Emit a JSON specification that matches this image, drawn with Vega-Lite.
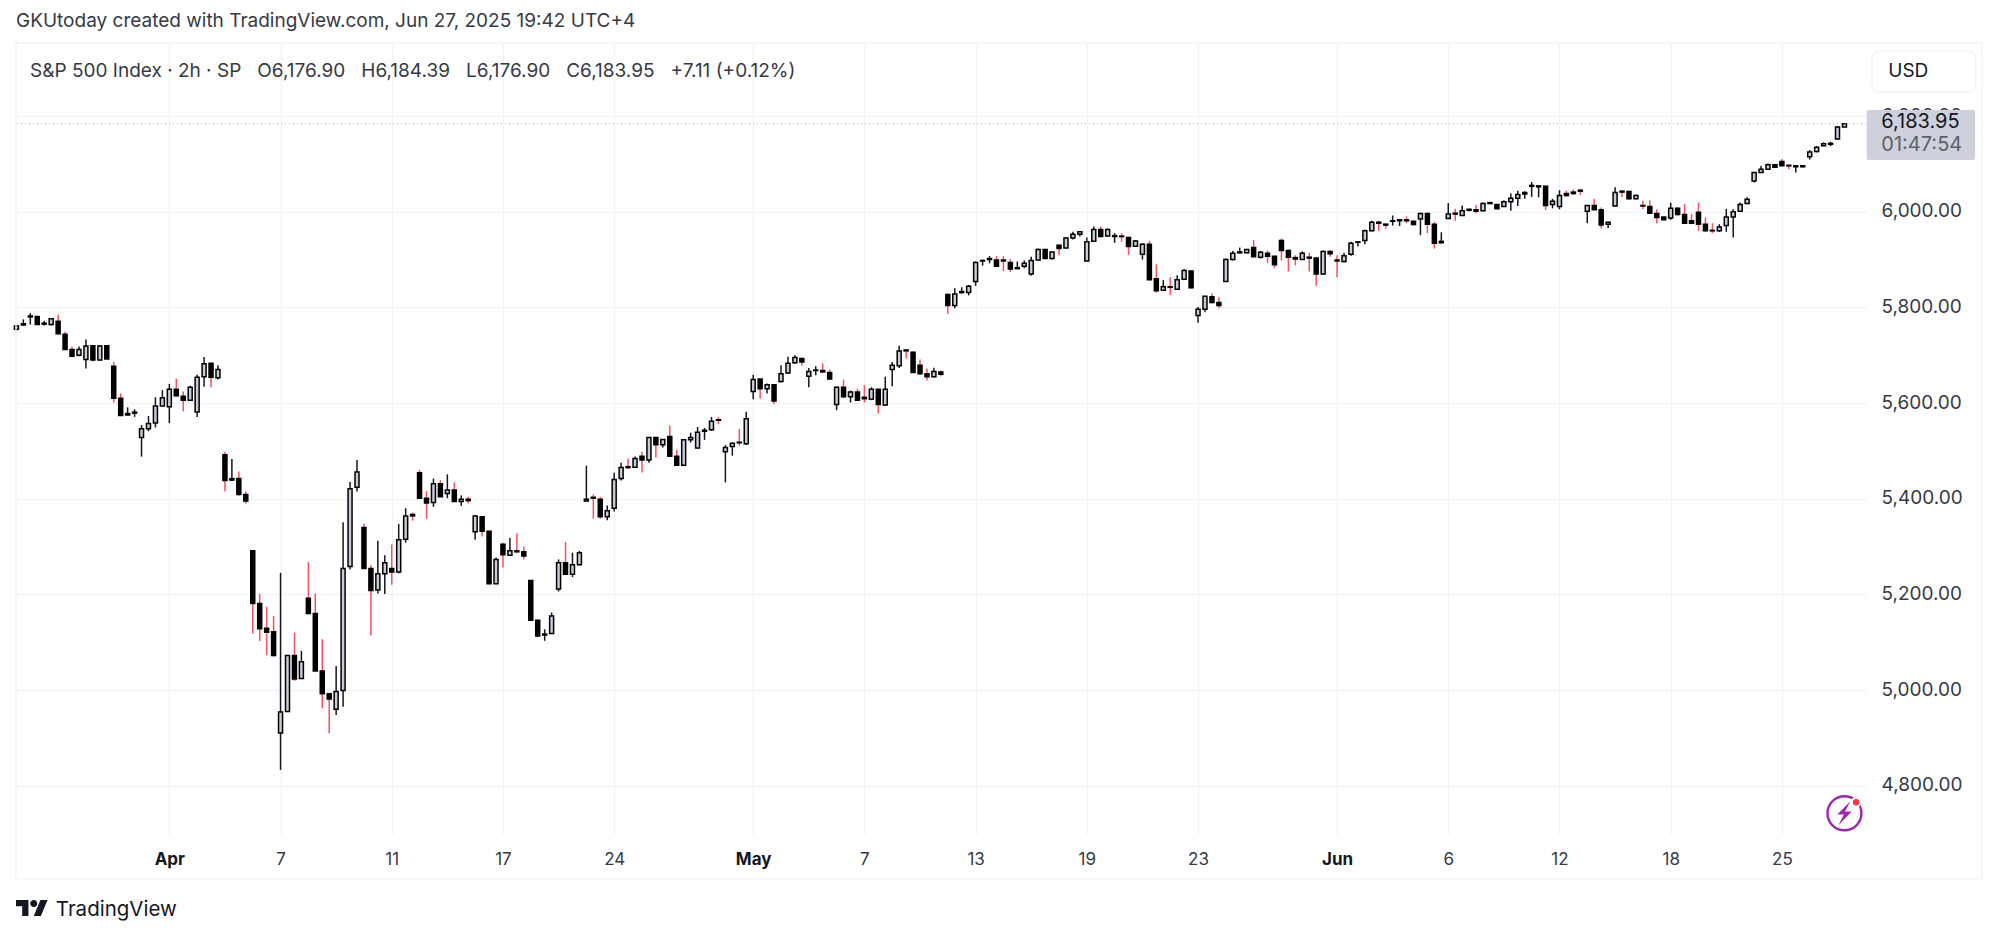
{
  "$schema": "https://vega.github.io/schema/vega-lite/v6.json",
  "description": "S&P 500 Index 2h candlesticks, Mar to Jun 2025",
  "width": 1850,
  "height": 791,
  "autosize": {"type": "none"},
  "padding": {"left": 16, "top": 43, "right": 133, "bottom": 104},
  "background": "#ffffff",
  "title": {"text": "GKUtoday created with TradingView.com, Jun 27, 2025 19:42 UTC+4", "anchor": "start", "frame": "group", "offset": 11, "fontSize": 19, "fontWeight": "normal", "color": "#363a45"},
  "config": {"font": "Inter", "view": {"stroke": null}, "axis": {"title": null}, "text": {"font": "Inter"}},
  "data": {"values": [{"note": "annotation"}]},
  "datasets": {
    "candles": [
      {"bar":0,"open":5754,"high":5763,"low":5751,"close":5761},
      {"bar":1,"open":5763,"high":5775,"low":5762,"close":5766},
      {"bar":2,"open":5780,"high":5788,"low":5764,"close":5782},
      {"bar":3,"open":5781,"high":5781,"low":5764,"close":5764},
      {"bar":4,"open":5765,"high":5772,"low":5762,"close":5767},
      {"bar":5,"open":5764,"high":5778,"low":5762,"close":5776},
      {"bar":6,"open":5771,"high":5785,"low":5744,"close":5745},
      {"bar":7,"open":5744,"high":5749,"low":5711,"close":5712},
      {"bar":8,"open":5712,"high":5718,"low":5695,"close":5698},
      {"bar":9,"open":5700,"high":5718,"low":5698,"close":5712},
      {"bar":10,"open":5691,"high":5733,"low":5672,"close":5719},
      {"bar":11,"open":5720,"high":5721,"low":5687,"close":5690},
      {"bar":12,"open":5690,"high":5721,"low":5689,"close":5719},
      {"bar":13,"open":5720,"high":5720,"low":5692,"close":5692},
      {"bar":14,"open":5677,"high":5686,"low":5601,"close":5610},
      {"bar":15,"open":5610,"high":5620,"low":5574,"close":5574},
      {"bar":16,"open":5575,"high":5591,"low":5574,"close":5578},
      {"bar":17,"open":5579,"high":5587,"low":5571,"close":5581},
      {"bar":18,"open":5528,"high":5554,"low":5488,"close":5546},
      {"bar":19,"open":5546,"high":5573,"low":5541,"close":5557},
      {"bar":20,"open":5558,"high":5612,"low":5549,"close":5594},
      {"bar":21,"open":5594,"high":5627,"low":5594,"close":5611},
      {"bar":22,"open":5592,"high":5640,"low":5558,"close":5629},
      {"bar":23,"open":5629,"high":5651,"low":5613,"close":5615},
      {"bar":24,"open":5614,"high":5624,"low":5583,"close":5606},
      {"bar":25,"open":5606,"high":5636,"low":5605,"close":5633},
      {"bar":26,"open":5581,"high":5659,"low":5571,"close":5654},
      {"bar":27,"open":5655,"high":5696,"low":5634,"close":5682},
      {"bar":28,"open":5683,"high":5683,"low":5633,"close":5654},
      {"bar":29,"open":5653,"high":5679,"low":5649,"close":5670},
      {"bar":30,"open":5492,"high":5498,"low":5415,"close":5438},
      {"bar":31,"open":5439,"high":5483,"low":5437,"close":5442},
      {"bar":32,"open":5442,"high":5457,"low":5406,"close":5409},
      {"bar":33,"open":5409,"high":5415,"low":5390,"close":5395},
      {"bar":34,"open":5291,"high":5291,"low":5118,"close":5181},
      {"bar":35,"open":5181,"high":5201,"low":5102,"close":5128},
      {"bar":36,"open":5129,"high":5174,"low":5073,"close":5121},
      {"bar":37,"open":5122,"high":5155,"low":5070,"close":5072},
      {"bar":38,"open":4910,"high":5245,"low":4833,"close":4954},
      {"bar":39,"open":4955,"high":5072,"low":4954,"close":5072},
      {"bar":40,"open":5072,"high":5120,"low":5019,"close":5023},
      {"bar":41,"open":5024,"high":5082,"low":5023,"close":5059},
      {"bar":42,"open":5192,"high":5267,"low":5159,"close":5160},
      {"bar":43,"open":5160,"high":5202,"low":5040,"close":5040},
      {"bar":44,"open":5040,"high":5106,"low":4962,"close":4992},
      {"bar":45,"open":4992,"high":4992,"low":4909,"close":4981},
      {"bar":46,"open":4960,"high":5050,"low":4948,"close":4997},
      {"bar":47,"open":4999,"high":5351,"low":4965,"close":5254},
      {"bar":48,"open":5258,"high":5435,"low":5252,"close":5421},
      {"bar":49,"open":5424,"high":5481,"low":5415,"close":5456},
      {"bar":50,"open":5340,"high":5348,"low":5254,"close":5254},
      {"bar":51,"open":5254,"high":5261,"low":5114,"close":5208},
      {"bar":52,"open":5209,"high":5312,"low":5202,"close":5243},
      {"bar":53,"open":5243,"high":5282,"low":5201,"close":5266},
      {"bar":54,"open":5254,"high":5304,"low":5220,"close":5247},
      {"bar":55,"open":5247,"high":5347,"low":5244,"close":5314},
      {"bar":56,"open":5315,"high":5380,"low":5308,"close":5364},
      {"bar":57,"open":5367,"high":5371,"low":5354,"close":5364},
      {"bar":58,"open":5454,"high":5460,"low":5401,"close":5401},
      {"bar":59,"open":5401,"high":5416,"low":5358,"close":5391},
      {"bar":60,"open":5392,"high":5442,"low":5383,"close":5431},
      {"bar":61,"open":5431,"high":5439,"low":5403,"close":5404},
      {"bar":62,"open":5411,"high":5451,"low":5401,"close":5418},
      {"bar":63,"open":5418,"high":5434,"low":5393,"close":5394},
      {"bar":64,"open":5394,"high":5407,"low":5385,"close":5399},
      {"bar":65,"open":5399,"high":5404,"low":5390,"close":5396},
      {"bar":66,"open":5331,"high":5366,"low":5314,"close":5364},
      {"bar":67,"open":5362,"high":5364,"low":5321,"close":5332},
      {"bar":68,"open":5332,"high":5332,"low":5221,"close":5222},
      {"bar":69,"open":5222,"high":5277,"low":5222,"close":5273},
      {"bar":70,"open":5305,"high":5308,"low":5256,"close":5283},
      {"bar":71,"open":5282,"high":5318,"low":5281,"close":5291},
      {"bar":72,"open":5291,"high":5328,"low":5287,"close":5289},
      {"bar":73,"open":5289,"high":5300,"low":5273,"close":5280},
      {"bar":74,"open":5229,"high":5230,"low":5145,"close":5146},
      {"bar":75,"open":5146,"high":5148,"low":5110,"close":5113},
      {"bar":76,"open":5115,"high":5127,"low":5103,"close":5117},
      {"bar":77,"open":5118,"high":5162,"low":5117,"close":5155},
      {"bar":78,"open":5211,"high":5273,"low":5206,"close":5266},
      {"bar":79,"open":5266,"high":5310,"low":5241,"close":5242},
      {"bar":80,"open":5242,"high":5287,"low":5236,"close":5262},
      {"bar":81,"open":5262,"high":5291,"low":5261,"close":5287},
      {"bar":82,"open":5395,"high":5469,"low":5394,"close":5399},
      {"bar":83,"open":5403,"high":5409,"low":5358,"close":5401},
      {"bar":84,"open":5399,"high":5404,"low":5358,"close":5362},
      {"bar":85,"open":5362,"high":5386,"low":5355,"close":5375},
      {"bar":86,"open":5380,"high":5454,"low":5373,"close":5440},
      {"bar":87,"open":5442,"high":5475,"low":5438,"close":5465},
      {"bar":88,"open":5467,"high":5484,"low":5462,"close":5465},
      {"bar":89,"open":5466,"high":5488,"low":5464,"close":5484},
      {"bar":90,"open":5489,"high":5498,"low":5455,"close":5481},
      {"bar":91,"open":5481,"high":5528,"low":5475,"close":5528},
      {"bar":92,"open":5528,"high":5528,"low":5486,"close":5513},
      {"bar":93,"open":5513,"high":5525,"low":5507,"close":5524},
      {"bar":94,"open":5530,"high":5553,"low":5488,"close":5489},
      {"bar":95,"open":5489,"high":5502,"low":5469,"close":5470},
      {"bar":96,"open":5470,"high":5524,"low":5468,"close":5523},
      {"bar":97,"open":5523,"high":5538,"low":5517,"close":5528},
      {"bar":98,"open":5506,"high":5550,"low":5505,"close":5539},
      {"bar":99,"open":5541,"high":5548,"low":5523,"close":5543},
      {"bar":100,"open":5544,"high":5571,"low":5542,"close":5562},
      {"bar":101,"open":5565,"high":5571,"low":5556,"close":5564},
      {"bar":102,"open":5498,"high":5512,"low":5434,"close":5507},
      {"bar":103,"open":5509,"high":5517,"low":5490,"close":5516},
      {"bar":104,"open":5518,"high":5546,"low":5511,"close":5517},
      {"bar":105,"open":5515,"high":5582,"low":5512,"close":5567},
      {"bar":106,"open":5624,"high":5659,"low":5608,"close":5649},
      {"bar":107,"open":5650,"high":5650,"low":5609,"close":5630},
      {"bar":108,"open":5630,"high":5641,"low":5620,"close":5638},
      {"bar":109,"open":5638,"high":5639,"low":5598,"close":5604},
      {"bar":110,"open":5645,"high":5679,"low":5643,"close":5661},
      {"bar":111,"open":5663,"high":5697,"low":5661,"close":5683},
      {"bar":112,"open":5684,"high":5700,"low":5682,"close":5695},
      {"bar":113,"open":5693,"high":5695,"low":5678,"close":5686},
      {"bar":114,"open":5656,"high":5673,"low":5633,"close":5666},
      {"bar":115,"open":5668,"high":5677,"low":5658,"close":5669},
      {"bar":116,"open":5668,"high":5683,"low":5663,"close":5665},
      {"bar":117,"open":5664,"high":5670,"low":5649,"close":5650},
      {"bar":118,"open":5597,"high":5634,"low":5585,"close":5633},
      {"bar":119,"open":5633,"high":5649,"low":5610,"close":5613},
      {"bar":120,"open":5613,"high":5626,"low":5601,"close":5623},
      {"bar":121,"open":5623,"high":5630,"low":5605,"close":5606},
      {"bar":122,"open":5612,"high":5637,"low":5601,"close":5609},
      {"bar":123,"open":5608,"high":5633,"low":5606,"close":5629},
      {"bar":124,"open":5629,"high":5629,"low":5578,"close":5597},
      {"bar":125,"open":5596,"high":5655,"low":5594,"close":5629},
      {"bar":126,"open":5670,"high":5686,"low":5635,"close":5679},
      {"bar":127,"open":5678,"high":5720,"low":5673,"close":5709},
      {"bar":128,"open":5711,"high":5712,"low":5693,"close":5709},
      {"bar":129,"open":5706,"high":5708,"low":5663,"close":5664},
      {"bar":130,"open":5679,"high":5691,"low":5659,"close":5661},
      {"bar":131,"open":5661,"high":5672,"low":5647,"close":5655},
      {"bar":132,"open":5655,"high":5674,"low":5654,"close":5666},
      {"bar":133,"open":5665,"high":5668,"low":5656,"close":5660},
      {"bar":134,"open":5827,"high":5829,"low":5786,"close":5804},
      {"bar":135,"open":5804,"high":5840,"low":5798,"close":5828},
      {"bar":136,"open":5831,"high":5842,"low":5829,"close":5833},
      {"bar":137,"open":5831,"high":5847,"low":5825,"close":5844},
      {"bar":138,"open":5854,"high":5896,"low":5845,"close":5894},
      {"bar":139,"open":5897,"high":5900,"low":5887,"close":5898},
      {"bar":140,"open":5900,"high":5907,"low":5892,"close":5902},
      {"bar":141,"open":5899,"high":5907,"low":5886,"close":5886},
      {"bar":142,"open":5899,"high":5907,"low":5876,"close":5897},
      {"bar":143,"open":5894,"high":5901,"low":5874,"close":5880},
      {"bar":144,"open":5881,"high":5896,"low":5880,"close":5883},
      {"bar":145,"open":5886,"high":5898,"low":5882,"close":5892},
      {"bar":146,"open":5870,"high":5906,"low":5866,"close":5898},
      {"bar":147,"open":5899,"high":5923,"low":5898,"close":5921},
      {"bar":148,"open":5921,"high":5921,"low":5901,"close":5902},
      {"bar":149,"open":5902,"high":5917,"low":5900,"close":5916},
      {"bar":150,"open":5930,"high":5932,"low":5909,"close":5923},
      {"bar":151,"open":5924,"high":5946,"low":5923,"close":5945},
      {"bar":152,"open":5945,"high":5958,"low":5942,"close":5953},
      {"bar":153,"open":5953,"high":5958,"low":5948,"close":5958},
      {"bar":154,"open":5897,"high":5946,"low":5896,"close":5937},
      {"bar":155,"open":5938,"high":5969,"low":5937,"close":5963},
      {"bar":156,"open":5963,"high":5969,"low":5946,"close":5948},
      {"bar":157,"open":5949,"high":5965,"low":5948,"close":5963},
      {"bar":158,"open":5948,"high":5955,"low":5935,"close":5950},
      {"bar":159,"open":5949,"high":5955,"low":5937,"close":5948},
      {"bar":160,"open":5946,"high":5948,"low":5910,"close":5927},
      {"bar":161,"open":5928,"high":5941,"low":5927,"close":5939},
      {"bar":162,"open":5911,"high":5934,"low":5900,"close":5932},
      {"bar":163,"open":5932,"high":5939,"low":5857,"close":5858},
      {"bar":164,"open":5860,"high":5890,"low":5831,"close":5835},
      {"bar":165,"open":5836,"high":5857,"low":5835,"close":5843},
      {"bar":166,"open":5843,"high":5863,"low":5826,"close":5842},
      {"bar":167,"open":5838,"high":5867,"low":5838,"close":5858},
      {"bar":168,"open":5859,"high":5880,"low":5857,"close":5877},
      {"bar":169,"open":5876,"high":5877,"low":5839,"close":5841},
      {"bar":170,"open":5783,"high":5801,"low":5768,"close":5796},
      {"bar":171,"open":5796,"high":5824,"low":5790,"close":5823},
      {"bar":172,"open":5822,"high":5829,"low":5808,"close":5810},
      {"bar":173,"open":5810,"high":5821,"low":5798,"close":5804},
      {"bar":174,"open":5854,"high":5902,"low":5854,"close":5900},
      {"bar":175,"open":5900,"high":5918,"low":5898,"close":5913},
      {"bar":176,"open":5914,"high":5925,"low":5913,"close":5916},
      {"bar":177,"open":5914,"high":5922,"low":5913,"close":5921},
      {"bar":178,"open":5925,"high":5941,"low":5905,"close":5906},
      {"bar":179,"open":5905,"high":5918,"low":5902,"close":5915},
      {"bar":180,"open":5913,"high":5919,"low":5893,"close":5907},
      {"bar":181,"open":5907,"high":5908,"low":5882,"close":5889},
      {"bar":182,"open":5940,"high":5944,"low":5898,"close":5919},
      {"bar":183,"open":5919,"high":5921,"low":5875,"close":5905},
      {"bar":184,"open":5904,"high":5909,"low":5888,"close":5901},
      {"bar":185,"open":5900,"high":5917,"low":5899,"close":5913},
      {"bar":186,"open":5905,"high":5914,"low":5875,"close":5903},
      {"bar":187,"open":5903,"high":5905,"low":5845,"close":5870},
      {"bar":188,"open":5870,"high":5919,"low":5868,"close":5917},
      {"bar":189,"open":5917,"high":5920,"low":5906,"close":5912},
      {"bar":190,"open":5899,"high":5909,"low":5863,"close":5897},
      {"bar":191,"open":5896,"high":5914,"low":5894,"close":5908},
      {"bar":192,"open":5911,"high":5937,"low":5908,"close":5934},
      {"bar":193,"open":5936,"high":5938,"low":5927,"close":5937},
      {"bar":194,"open":5940,"high":5963,"low":5932,"close":5960},
      {"bar":195,"open":5960,"high":5981,"low":5959,"close":5978},
      {"bar":196,"open":5978,"high":5981,"low":5960,"close":5976},
      {"bar":197,"open":5974,"high":5974,"low":5964,"close":5972},
      {"bar":198,"open":5980,"high":5992,"low":5971,"close":5981},
      {"bar":199,"open":5981,"high":5984,"low":5970,"close":5983},
      {"bar":200,"open":5983,"high":5990,"low":5976,"close":5981},
      {"bar":201,"open":5980,"high":5981,"low":5971,"close":5973},
      {"bar":202,"open":5985,"high":5998,"low":5951,"close":5996},
      {"bar":203,"open":5996,"high":5998,"low":5955,"close":5974},
      {"bar":204,"open":5974,"high":5979,"low":5923,"close":5934},
      {"bar":205,"open":5935,"high":5957,"low":5934,"close":5938},
      {"bar":206,"open":5986,"high":6018,"low":5985,"close":5995},
      {"bar":207,"open":5997,"high":6006,"low":5981,"close":5995},
      {"bar":208,"open":5992,"high":6013,"low":5991,"close":6002},
      {"bar":209,"open":6005,"high":6007,"low":6000,"close":6003},
      {"bar":210,"open":6004,"high":6014,"low":5997,"close":6001},
      {"bar":211,"open":6002,"high":6019,"low":6001,"close":6017},
      {"bar":212,"open":6019,"high":6021,"low":6016,"close":6017},
      {"bar":213,"open":6015,"high":6015,"low":6005,"close":6006},
      {"bar":214,"open":6011,"high":6024,"low":6010,"close":6021},
      {"bar":215,"open":6021,"high":6038,"low":6002,"close":6028},
      {"bar":216,"open":6028,"high":6044,"low":6012,"close":6036},
      {"bar":217,"open":6037,"high":6043,"low":6027,"close":6040},
      {"bar":218,"open":6053,"high":6062,"low":6031,"close":6055},
      {"bar":219,"open":6052,"high":6056,"low":6030,"close":6054},
      {"bar":220,"open":6053,"high":6054,"low":6003,"close":6013},
      {"bar":221,"open":6015,"high":6027,"low":6007,"close":6022},
      {"bar":222,"open":6011,"high":6045,"low":6005,"close":6034},
      {"bar":223,"open":6038,"high":6044,"low":6031,"close":6034},
      {"bar":224,"open":6041,"high":6047,"low":6035,"close":6038},
      {"bar":225,"open":6045,"high":6047,"low":6035,"close":6043},
      {"bar":226,"open":6001,"high":6014,"low":5976,"close":6013},
      {"bar":227,"open":6013,"high":6027,"low":6003,"close":6004},
      {"bar":228,"open":6004,"high":6009,"low":5965,"close":5972},
      {"bar":229,"open":5974,"high":5979,"low":5966,"close":5978},
      {"bar":230,"open":6012,"high":6051,"low":6011,"close":6040},
      {"bar":231,"open":6043,"high":6044,"low":6031,"close":6041},
      {"bar":232,"open":6042,"high":6044,"low":6025,"close":6027},
      {"bar":233,"open":6027,"high":6036,"low":6026,"close":6034},
      {"bar":234,"open":6013,"high":6023,"low":6005,"close":6012},
      {"bar":235,"open":6011,"high":6024,"low":5995,"close":5997},
      {"bar":236,"open":5996,"high":6005,"low":5976,"close":5988},
      {"bar":237,"open":5989,"high":5989,"low":5982,"close":5983},
      {"bar":238,"open":5987,"high":6019,"low":5983,"close":6007},
      {"bar":239,"open":6007,"high":6009,"low":5992,"close":5994},
      {"bar":240,"open":5994,"high":6016,"low":5974,"close":5976},
      {"bar":241,"open":5981,"high":5995,"low":5974,"close":5976},
      {"bar":242,"open":5999,"high":6019,"low":5960,"close":5974},
      {"bar":243,"open":5974,"high":5988,"low":5958,"close":5960},
      {"bar":244,"open":5961,"high":5976,"low":5955,"close":5960},
      {"bar":245,"open":5960,"high":5974,"low":5958,"close":5968},
      {"bar":246,"open":5971,"high":6006,"low":5958,"close":5989},
      {"bar":247,"open":5989,"high":6005,"low":5946,"close":6000},
      {"bar":248,"open":6001,"high":6019,"low":6000,"close":6015},
      {"bar":249,"open":6017,"high":6030,"low":6016,"close":6026},
      {"bar":250,"open":6064,"high":6083,"low":6061,"close":6082},
      {"bar":251,"open":6082,"high":6096,"low":6082,"close":6089},
      {"bar":252,"open":6089,"high":6101,"low":6088,"close":6098},
      {"bar":253,"open":6098,"high":6100,"low":6092,"close":6093},
      {"bar":254,"open":6105,"high":6110,"low":6095,"close":6096},
      {"bar":255,"open":6097,"high":6098,"low":6089,"close":6096},
      {"bar":256,"open":6094,"high":6096,"low":6082,"close":6096},
      {"bar":257,"open":6096,"high":6096,"low":6091,"close":6094},
      {"bar":258,"open":6115,"high":6129,"low":6109,"close":6125},
      {"bar":259,"open":6126,"high":6137,"low":6124,"close":6135},
      {"bar":260,"open":6138,"high":6145,"low":6137,"close":6142},
      {"bar":261,"open":6141,"high":6146,"low":6137,"close":6143},
      {"bar":262,"open":6152,"high":6179,"low":6151,"close":6177},
      {"bar":263,"open":6176.9,"high":6184.39,"low":6176.9,"close":6183.95}
    ]
  },
  "layer": [
    {
      "data": {"name": "candles"},
      "mark": {"type": "rule", "strokeWidth": 1.5},
      "encoding": {
        "x": {
          "field": "bar",
          "type": "quantitative",
          "scale": {"domain": [-0.06, 266.1], "nice": false, "zero": false, "padding": 0},
          "axis": {
            "title": null,
            "values": [22, 38, 54, 70, 86, 106, 122, 138, 154, 170, 190, 206, 222, 238, 254],
            "labelExpr": "{'22':'Apr','38':'7','54':'11','70':'17','86':'24','106':'May','122':'7','138':'13','154':'19','170':'23','190':'Jun','206':'6','222':'12','238':'18','254':'25'}[datum.value]",
            "labelFontSize": 17,
            "labelColor": {"condition": {"test": "indexof([22,106,190],datum.value)>=0", "value": "#131722"}, "value": "#363a45"},
            "labelFontWeight": {"condition": {"test": "indexof([22,106,190],datum.value)>=0", "value": 700}, "value": 400},
            "labelPadding": 17,
            "labelFlush": false,
            "labelOverlap": false,
            "domain": false,
            "ticks": false,
            "grid": true,
            "gridColor": "#f2f3f5",
            "gridWidth": 1.3
          }
        },
        "y": {
          "field": "low",
          "type": "quantitative",
          "scale": {"domain": [4699, 6352.7], "nice": false, "zero": false},
          "axis": {
            "title": null,
            "orient": "right",
            "values": [4800, 5000, 5200, 5400, 5600, 5800, 6000, 6200],
            "format": ",.2f",
            "labelFontSize": 19,
            "labelColor": "#363a45",
            "labelPadding": 15,
            "labelOffset": -1,
            "labelOverlap": false,
            "domain": false,
            "ticks": false,
            "grid": true,
            "gridColor": "#f2f3f5",
            "gridWidth": 1.3
          }
        },
        "y2": {"field": "high"},
        "color": {
          "condition": {"test": "datum.close >= datum.open", "value": "#131722"},
          "value": "#f7525f"
        }
      }
    },
    {
      "data": {"name": "candles"},
      "mark": {"type": "bar", "size": 4, "stroke": "#000000", "strokeWidth": 1.5},
      "encoding": {
        "x": {"field": "bar", "type": "quantitative"},
        "y": {"field": "open", "type": "quantitative"},
        "y2": {"field": "close"},
        "fill": {
          "condition": {"test": "datum.close >= datum.open", "value": "#c8ccd8"},
          "value": "#000000"
        }
      }
    },
    {
      "mark": {"type": "rule", "stroke": "#b2b5be", "strokeWidth": 1, "strokeDash": [1, 3]},
      "encoding": {"y": {"datum": 6183.95, "type": "quantitative"}}
    },
    {
      "mark": {"type": "rect", "fillOpacity": 0, "stroke": "#f2f3f5", "strokeWidth": 1.3},
      "encoding": {
        "x": {"datum": -0.06, "type": "quantitative"},
        "x2": {"datum": 282.8},
        "y": {"datum": 6352.7, "type": "quantitative"},
        "y2": {"datum": 4605}
      }
    },
    {
      "mark": {"type": "rect", "fill": "#ffffff", "stroke": "#eef0f5", "strokeWidth": 1.2, "cornerRadius": 8},
      "encoding": {
        "x": {"datum": 266.96, "type": "quantitative"},
        "x2": {"datum": 281.9},
        "y": {"datum": 6336, "type": "quantitative"},
        "y2": {"datum": 6250.2}
      }
    },
    {
      "mark": {"type": "rect", "fill": "#ced1dc", "cornerRadius": 2},
      "encoding": {
        "x": {"datum": 266.2, "type": "quantitative"},
        "x2": {"datum": 281.8},
        "y": {"datum": 6212.6, "type": "quantitative"},
        "y2": {"datum": 6108.1}
      }
    },
    {
      "mark": {"type": "text", "align": "left", "baseline": "middle", "fontSize": 19, "color": "#131722", "text": "USD"},
      "encoding": {
        "x": {"datum": 269.3, "type": "quantitative"},
        "y": {"datum": 6294, "type": "quantitative"}
      }
    },
    {
      "mark": {"type": "text", "align": "left", "baseline": "middle", "fontSize": 20, "color": "#131722", "text": "6,183.95"},
      "encoding": {
        "x": {"datum": 268.3, "type": "quantitative"},
        "y": {"datum": 6187.5, "type": "quantitative"}
      }
    },
    {
      "mark": {"type": "text", "align": "left", "baseline": "middle", "fontSize": 20, "color": "#5d606b", "text": "01:47:54"},
      "encoding": {
        "x": {"datum": 268.3, "type": "quantitative"},
        "y": {"datum": 6139.4, "type": "quantitative"}
      }
    },
    {
      "mark": {"type": "text", "align": "left", "baseline": "middle", "fontSize": 19, "color": "#363a45", "text": "S&P 500 Index · 2h · SP\u00a0\u00a0\u00a0O6,176.90\u00a0\u00a0\u00a0H6,184.39\u00a0\u00a0\u00a0L6,176.90\u00a0\u00a0\u00a0C6,183.95\u00a0\u00a0\u00a0+7.11 (+0.12%)"},
      "encoding": {
        "x": {"datum": 1.96, "type": "quantitative"},
        "y": {"datum": 6294.8, "type": "quantitative"}
      }
    },
    {
      "mark": {"type": "point", "filled": true, "fill": "#131722", "strokeWidth": 0, "opacity": 1, "size": 1024, "shape": "M-0.222,0.5H-0.611V-0.111H-1V-0.5H-0.222Z M0.556,0.5H0.111L0.528,-0.5H0.972Z M-0.111,-0.278a0.222,0.222 0 1,0 0.444,0a0.222,0.222 0 1,0 -0.444,0Z"},
      "encoding": {
        "x": {"datum": 2.24, "type": "quantitative"},
        "y": {"datum": 4544.3, "type": "quantitative"}
      }
    },
    {
      "mark": {"type": "text", "align": "left", "baseline": "middle", "fontSize": 20.5, "color": "#131722", "text": "TradingView"},
      "encoding": {
        "x": {"datum": 5.67, "type": "quantitative"},
        "y": {"datum": 4540, "type": "quantitative"}
      }
    },
    {
      "mark": {"type": "point", "shape": "circle", "filled": false, "stroke": "#9c27b0", "strokeWidth": 2.4, "opacity": 1, "size": 1156},
      "encoding": {
        "x": {"datum": 263, "type": "quantitative"},
        "y": {"datum": 4742.3, "type": "quantitative"}
      }
    },
    {
      "mark": {"type": "point", "filled": true, "fill": "#9c27b0", "strokeWidth": 0, "opacity": 1, "size": 576, "shape": "M0.5,-1L-0.6,0.1L-0.05,0.1L-0.5,1L0.6,-0.15L0.05,-0.15Z"},
      "encoding": {
        "x": {"datum": 263, "type": "quantitative"},
        "y": {"datum": 4742.3, "type": "quantitative"}
      }
    },
    {
      "mark": {"type": "point", "shape": "circle", "filled": true, "fill": "#f23645", "stroke": "#ffffff", "strokeWidth": 2, "opacity": 1, "size": 72},
      "encoding": {
        "x": {"datum": 264.67, "type": "quantitative"},
        "y": {"datum": 4765.3, "type": "quantitative"}
      }
    }
  ]
}
